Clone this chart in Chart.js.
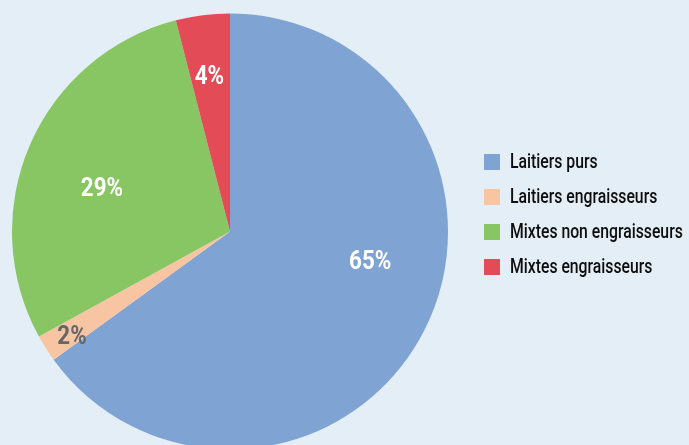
<html><head>
<title>Répartition</title>
<style>
  body { margin: 0; padding: 0; background-color: #e4eef6; overflow: hidden; }
  #wrap { width: 689px; height: 445px; position: relative; overflow: hidden; }
</style>
<script src="https://cdn.jsdelivr.net/npm/chart.js"></script>
</head>
<body>
<div id="wrap"><canvas id="pie" width="689" height="450"></canvas></div>
<script>
// data
const categories = ['Laitiers purs', 'Laitiers engraisseurs', 'Mixtes non engraisseurs', 'Mixtes engraisseurs'];
const shares = [65, 2, 29, 4];
const sliceColors = ['#7fa3d3', '#f8c5a3', '#88c664', '#e34c57'];
const labelColors = ['#ffffff', '#666666', '#ffffff', '#ffffff'];

const family = 'Roboto, "DejaVu Sans", sans-serif';

function narrowText(ctx, text, x, y, align, squeeze) {
  ctx.save();
  ctx.translate(x, y);
  ctx.scale(squeeze, 1);
  ctx.textAlign = align;
  ctx.fillText(text, 0, 0);
  ctx.restore();
}

// percent labels inside the slices (small nudges to sit where the original puts them)
const labelNudge = [[12, -34], [4, 3], [8, 17], [-2, -7]];
const sliceLabels = {
  id: 'sliceLabels',
  afterDatasetsDraw(chart) {
    const ctx = chart.ctx;
    const meta = chart.getDatasetMeta(0);
    ctx.save();
    ctx.font = 'bold 26px ' + family;
    ctx.textBaseline = 'middle';
    meta.data.forEach((arc, i) => {
      const p = arc.getProps(['x', 'y', 'startAngle', 'endAngle', 'outerRadius'], true);
      const mid = (p.startAngle + p.endAngle) / 2;
      const f = shares[i] < 3 ? 0.88 : (shares[i] > 50 ? 0.66 : 0.68);
      const x = p.x + Math.cos(mid) * p.outerRadius * f + labelNudge[i][0];
      const y = p.y + Math.sin(mid) * p.outerRadius * f + labelNudge[i][1];
      ctx.fillStyle = labelColors[i];
      narrowText(ctx, shares[i] + '%', x, y, 'center', 0.86);
    });
    ctx.restore();
  }
};

// legend on the right, drawn from the chart's own legend items
const sideLegend = {
  id: 'sideLegend',
  afterDraw(chart) {
    const ctx = chart.ctx;
    const items = chart.options.plugins.legend.labels.generateLabels(chart);
    ctx.save();
    ctx.font = '500 21px ' + family;
    ctx.textBaseline = 'middle';
    items.forEach((it, i) => {
      const cy = 162 + i * 35;
      ctx.fillStyle = it.fillStyle;
      ctx.fillRect(484, cy - 8, 16, 16);
      ctx.fillStyle = '#0d0d0d';
      narrowText(ctx, it.text, 510, cy + 1, 'left', 0.75);
    });
    ctx.restore();
  }
};

new Chart(document.getElementById('pie'), {
  type: 'pie',
  data: {
    labels: categories,
    datasets: [{
      data: shares,
      backgroundColor: sliceColors,
      borderWidth: 0
    }]
  },
  options: {
    responsive: false,
    animation: false,
    layout: { padding: { left: 12, top: 13, right: 241, bottom: 0 } },
    plugins: {
      legend: { display: false },
      tooltip: { enabled: false }
    }
  },
  plugins: [sliceLabels, sideLegend]
});
</script>
</body></html>
